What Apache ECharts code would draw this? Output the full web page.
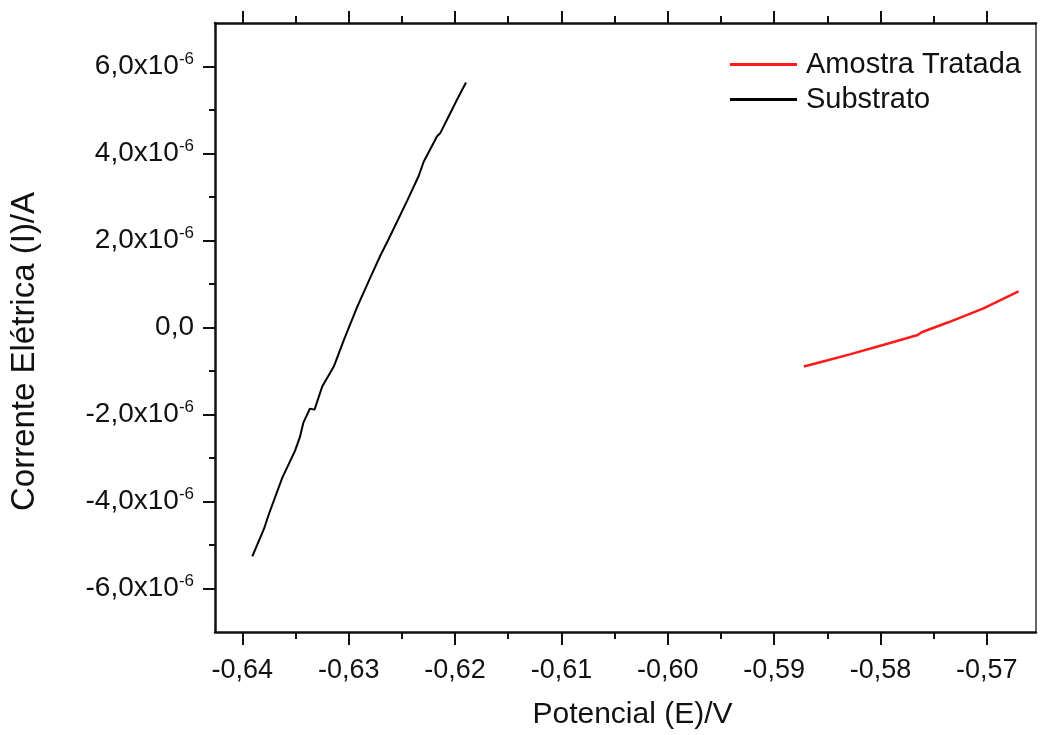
<!DOCTYPE html>
<html>
<head>
<meta charset="utf-8">
<script src="https://cdn.jsdelivr.net/npm/echarts@6/dist/echarts.min.js"></script>
<style>
html,body{margin:0;padding:0;background:#fff;}
#c{width:1040px;height:735px;}
</style>
</head>
<body>
<div id="c"></div>
<script>
// Series: Substrato (black)
var potencialSubstrato = [-0.63906,-0.63797,-0.63750,-0.63624,-0.63506,-0.63459,-0.63427,-0.63365,-0.63321,-0.63249,-0.63140,-0.63046,-0.62920,-0.62795,-0.62702,-0.62624,-0.62451,-0.62342,-0.62295,-0.62169,-0.62138,-0.62044,-0.61966,-0.61897];
var correnteSubstrato = [-5.264e-6,-4.631e-6,-4.288e-6,-3.451e-6,-2.841e-6,-2.521e-6,-2.194e-6,-1.865e-6,-1.888e-6,-1.355e-6,-0.898e-6,-0.288e-6,0.473e-6,1.159e-6,1.655e-6,2.034e-6,2.912e-6,3.483e-6,3.810e-6,4.398e-6,4.473e-6,4.930e-6,5.312e-6,5.632e-6];
// Series: Amostra Tratada (red)
var potencialAmostra = [-0.58721,-0.58505,-0.58289,-0.57976,-0.57650,-0.57613,-0.57368,-0.57037,-0.56702];
var correnteAmostra = [-0.898e-6,-0.760e-6,-0.617e-6,-0.402e-6,-0.174e-6,-0.110e-6,0.114e-6,0.434e-6,0.832e-6];
// Ticks
var xMajorTicks = [-0.64,-0.63,-0.62,-0.61,-0.60,-0.59,-0.58,-0.57];
var xMinorTicks = [-0.635,-0.625,-0.615,-0.605,-0.595,-0.585,-0.575];
var yMajorTicks = [-6e-6,-4e-6,-2e-6,0,2e-6,4e-6,6e-6];
var yMinorTicks = [-5e-6,-3e-6,-1e-6,1e-6,3e-6,5e-6];
var seriesNames = ['Amostra Tratada','Substrato'];

function zip(a,b){var r=[];for(var i=0;i<a.length;i++)r.push([a[i],b[i]]);return r;}

var XMIN=-0.64257, XMAX=-0.56538, YMIN=-7e-6, YMAX=7e-6;
var FONT='"Liberation Sans", Arial, sans-serif';
var TXT='#111';

function xAxisDef(pos, ticks, len, labels, line){
  return {
    type:'value', position:pos, min:XMIN, max:XMAX,
    axisLine:{show:line, onZero:false, lineStyle:{color:'#111', width:2.5}},
    axisTick:{show:true, inside:false, length:len, customValues:ticks, lineStyle:{color:'#111', width:2}},
    axisLabel:{show:labels, customValues:ticks, margin:25, fontSize:27, fontFamily:FONT, color:TXT,
      formatter:function(v){return v.toFixed(2).replace('.',',');}},
    splitLine:{show:false}
  };
}
function yAxisDef(pos, ticks, len, labels, line){
  return {
    type:'value', position:pos, min:YMIN, max:YMAX,
    axisLine:{show:line, onZero:false, lineStyle:{color:'#111', width:2.5}},
    axisTick:{show:len>0, inside:false, length:len, customValues:ticks||[], lineStyle:{color:'#111', width:2}},
    axisLabel:{show:labels, customValues:ticks||[], margin:21, fontFamily:FONT, color:TXT,
      formatter:function(v){
        var n=Math.round(v*1e6);
        if(n===0) return '{b|0,0}';
        return '{b|'+n+',0x10}{s|-6}';
      },
      rich:{
        b:{fontSize:28, fontFamily:FONT, color:TXT, lineHeight:31},
        s:{fontSize:17, fontFamily:FONT, color:TXT, lineHeight:17, verticalAlign:'top'}
      }
    },
    splitLine:{show:false}
  };
}

var xa0 = xAxisDef('bottom', xMajorTicks, 13, true, true);
xa0.name='Potencial (E)/V';
xa0.nameLocation='middle';
xa0.nameGap=68;
xa0.nameTextStyle={fontSize:30, fontFamily:FONT, color:TXT, padding:[0,0,0,14]};
var ya0 = yAxisDef('left', yMajorTicks, 12, true, true);
ya0.name='Corrente Elétrica (I)/A';
ya0.nameLocation='middle';
ya0.nameGap=174;
ya0.nameTextStyle={fontSize:33, fontFamily:FONT, color:TXT, padding:[0,48,0,0]};

var option = {
  animation:false,
  backgroundColor:'#fff',
  grid:{left:214, right:4, top:23, bottom:98, containLabel:false},
  legend:{
    orient:'vertical', left:725, top:43, itemWidth:67, itemHeight:3, itemGap:2,
    icon:'rect', data:seriesNames,
    textStyle:{fontSize:29, fontFamily:FONT, color:TXT, lineHeight:33, padding:[0,0,0,4]}
  },
  xAxis:[
    xa0,
    xAxisDef('bottom', xMinorTicks, 7, false, false),
    xAxisDef('top', xMajorTicks, 12, false, true),
    xAxisDef('top', xMinorTicks, 7, false, false)
  ],
  yAxis:[
    ya0,
    yAxisDef('left', yMinorTicks, 6, false, false),
    {type:'value', position:'right', min:YMIN, max:YMAX,
     axisLine:{show:true, onZero:false, lineStyle:{color:'#333', width:1.5}},
     axisTick:{show:false}, axisLabel:{show:false}, splitLine:{show:false}}
  ],
  series:[
    {name:seriesNames[0], type:'line', xAxisIndex:0, yAxisIndex:0, data:zip(potencialAmostra, correnteAmostra),
     showSymbol:false, symbol:'none', itemStyle:{color:'#ff1a1a'}, lineStyle:{color:'#ff1a1a', width:2.5}},
    {name:seriesNames[1], type:'line', xAxisIndex:0, yAxisIndex:0, data:zip(potencialSubstrato, correnteSubstrato),
     showSymbol:false, symbol:'none', itemStyle:{color:'#000'}, lineStyle:{color:'#000', width:2}}
  ]
};
var chart = echarts.init(document.getElementById('c'), null, {renderer:'canvas'});
chart.setOption(option);
</script>
</body>
</html>
